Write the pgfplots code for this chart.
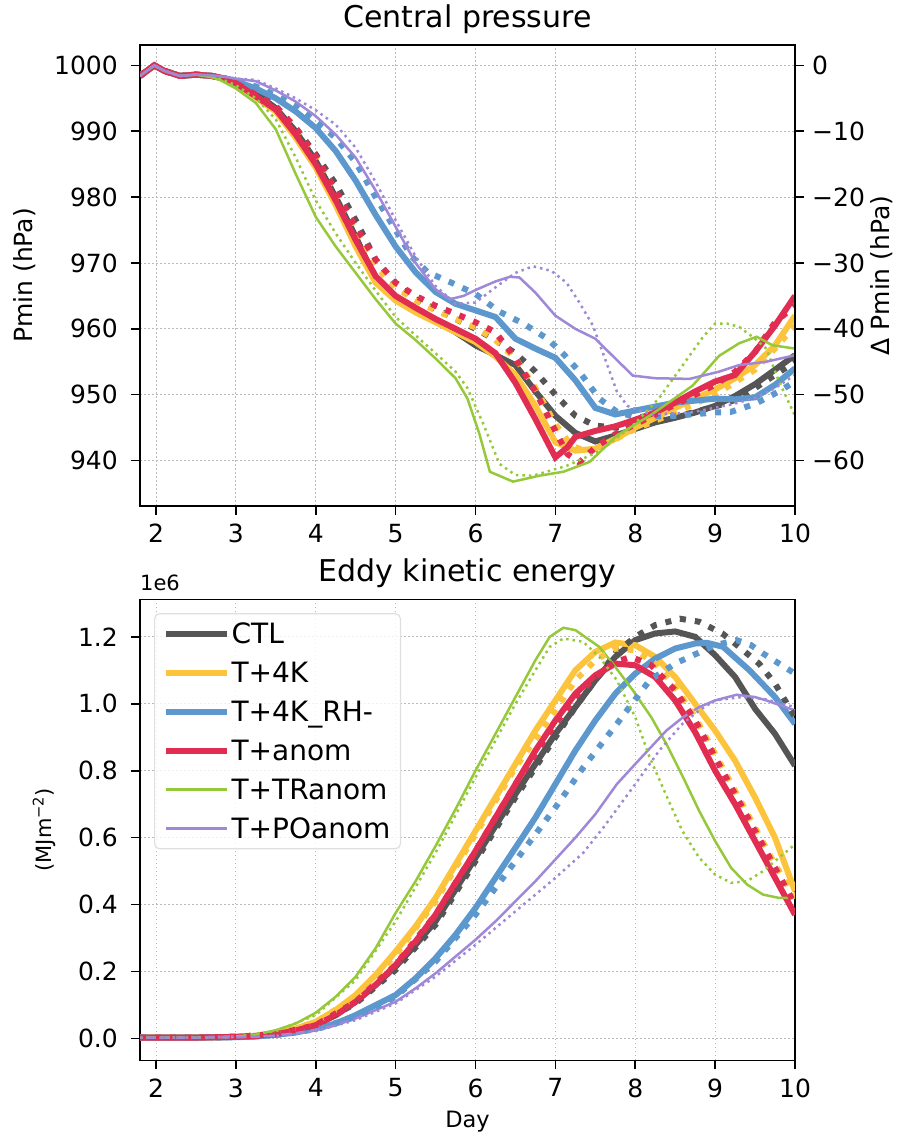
\documentclass[border=0pt]{standalone}
\usepackage{fontspec}
\setmainfont{DejaVu Sans}
\usepackage{pgfplots}
\pgfplotsset{compat=1.18}
\definecolor{cctl}{RGB}{85,85,85}
\definecolor{cfk}{RGB}{252,196,60}
\definecolor{crh}{RGB}{92,152,205}
\definecolor{canom}{RGB}{226,45,82}
\definecolor{ctr}{RGB}{150,200,60}
\definecolor{cpo}{RGB}{158,136,215}
\newcommand{\tickfont}{\fontsize{25bp}{30bp}\selectfont}
\pgfplotsset{
  myax/.style={scale only axis, width=655bp, height=461bp,
    xmin=1.8, xmax=10, xtick={2,3,4,5,6,7,8,9,10},
    axis line style={line width=1.6bp, black},
    every tick/.style={line width=1.6bp, black},
    major tick length=9bp, tick align=outside,
    ticklabel style={font=\tickfont},
    /pgf/number format/assume math mode=true,
    /pgf/number format/1000 sep={},
    xticklabel style={inner sep=0pt, yshift=-9bp},
    title style={font=\fontsize{30bp}{36bp}\selectfont, at={(0.5,1)}, anchor=base, yshift=12bp},
  },
  gridst/.style={grid=major, major grid style={gray!55, line width=0.9bp, dash pattern=on 1.5bp off 2.5bp}},
  thk/.style={line width=6bp},
  thn/.style={line width=2.5bp},
  dthk/.style={line width=6bp, dash pattern=on 6bp off 9bp},
  dthn/.style={line width=2.5bp, dash pattern=on 2.5bp off 4bp},
}
\begin{document}
\begin{tikzpicture}
\path[use as bounding box] (0,0) rectangle (899bp,-1135bp);
% ---------------- top panel ----------------
\begin{axis}[myax, gridst, at={(140bp,-45bp)}, anchor=north west,
  ymin=933.1, ymax=1003.1, ytick={940,950,960,970,980,990,1000},
  xtick pos=bottom, ytick pos=left,
  yticklabel style={inner sep=0pt, xshift=-13bp},
  title={Central pressure},
  ylabel={Pmin (hPa)}, ylabel style={font=\tickfont, at={(axis description cs:-0.1756,0.5)}, anchor=center}]
% CTL
\addplot[cctl, thk] coordinates {(1.8,998.4)(1.9,999.3)(1.98,1000.0)(2.1,999.2)(2.3,998.4)(2.5,998.6)(2.7,998.4)(2.9,997.9)
 (3.0,997.3)(3.25,995.8)(3.5,993.5)(3.75,990)(4.0,985.5)(4.25,980)(4.5,974)(4.75,967.5)(5.0,964.5)(5.25,962.8)(5.5,961.2)(5.75,959.5)(6.0,957.5)(6.25,956)(6.5,954.5)(6.75,950.5)(7.0,946.8)(7.25,944.2)(7.5,942.9)(7.75,943.8)(8.0,944.8)(8.25,945.8)(8.5,946.5)(8.75,947.3)(9.0,948.3)(9.25,949.8)(9.5,951.6)(9.75,953.8)(10,956)};
\addplot[cctl, dthk] coordinates {(1.8,998.4)(1.9,999.3)(1.98,1000.0)(2.1,999.2)(2.3,998.4)(2.5,998.6)(2.7,998.4)(2.9,997.9)
 (3.0,997.3)(3.25,996)(3.5,993.8)(3.75,990.5)(4.0,986.5)(4.25,982)(4.5,976.5)(4.75,970.5)(5.0,966.8)(5.25,964.5)(5.5,963)(5.75,961.5)(6.0,960)(6.25,958.3)(6.5,956.3)(6.75,953.5)(7.0,950)(7.25,946.8)(7.5,945.3)(7.75,945)(8.0,945.2)(8.5,946.6)(9.0,948.2)(9.25,949.2)(9.5,951)(9.75,953)(10,955)};
% T+4K
\addplot[cfk, thk] coordinates {(1.8,998.4)(1.9,999.3)(1.98,1000.0)(2.1,999.2)(2.3,998.4)(2.5,998.6)(2.7,998.4)(2.9,997.9)
 (3.0,997.3)(3.5,993)(3.75,989)(4.0,984.5)(4.25,978.8)(4.5,972.5)(4.75,967)(5.0,964.3)(5.25,962.5)(5.5,961)(5.75,959.5)(6.0,958)(6.25,955.8)(6.5,953)(6.75,948.3)(7.0,942.8)(7.25,941.5)(7.5,941.8)(7.75,943.3)(8.0,945)(8.5,948)(9.0,950.8)(9.25,952.5)(9.5,954.5)(9.75,957.5)(10,962)};
\addplot[cfk, dthk] coordinates {(1.8,998.4)(1.9,999.3)(1.98,1000.0)(2.1,999.2)(2.3,998.4)(2.5,998.6)(2.7,998.4)(2.9,997.9)
 (3.0,997.3)(3.5,993.6)(3.75,990)(4.0,985.8)(4.25,980.5)(4.5,974.8)(4.75,969.5)(5.0,966.3)(5.25,964.3)(5.5,962.8)(5.75,961.5)(6.0,960.2)(6.25,958.3)(6.5,955.5)(6.75,951)(7.0,945.5)(7.2,942.3)(7.4,941.3)(7.6,942.3)(8.0,944.8)(8.5,947.3)(9.0,950)(9.5,953.8)(9.75,957)(10,960.5)};
% T+4K_RH-
\addplot[crh, thk] coordinates {(1.8,998.4)(1.9,999.3)(1.98,1000.0)(2.1,999.2)(2.3,998.4)(2.5,998.6)(2.7,998.4)(2.9,997.9)
 (3.0,997.6)(3.25,996.5)(3.5,995)(3.75,993)(4.0,990.5)(4.25,987)(4.5,982.5)(4.75,977.3)(5.0,972.5)(5.25,968.6)(5.5,965.6)(5.75,963.8)(6.0,962.8)(6.25,961.8)(6.5,958.5)(6.75,957)(7.0,955.6)(7.25,952.2)(7.5,948)(7.75,947)(8.0,947.6)(8.25,948.2)(8.5,948.8)(8.75,949.1)(9.0,949.4)(9.25,949.3)(9.5,949.6)(9.75,951.5)(10,954)};
\addplot[crh, dthk] coordinates {(1.8,998.4)(1.9,999.3)(1.98,1000.0)(2.1,999.2)(2.3,998.4)(2.5,998.6)(2.7,998.4)(2.9,997.9)
 (3.0,997.6)(3.25,996.8)(3.5,995.5)(3.75,993.8)(4.0,991.5)(4.25,989)(4.5,985.3)(4.75,980)(5.0,975)(5.2,971)(5.4,968.6)(5.7,967)(6.0,965.3)(6.3,962.6)(6.6,960.8)(6.9,958.5)(7.1,956.2)(7.3,953.5)(7.55,949.4)(7.77,947.4)(8.0,946.6)(8.5,946.8)(9.0,947.3)(9.2,947.4)(9.5,948.6)(9.8,950.5)(10,952)};
% T+anom
\addplot[canom, thk] coordinates {(1.8,998.4)(1.9,999.3)(1.98,1000.0)(2.1,999.2)(2.3,998.4)(2.5,998.6)(2.7,998.4)(2.9,997.9)
 (3.0,997.3)(3.5,993.3)(3.75,989.5)(4.0,985)(4.25,979.5)(4.5,973.5)(4.75,968)(5.0,965)(5.25,963.2)(5.5,961.5)(5.75,960)(6.0,958.5)(6.25,956.3)(6.5,951.8)(6.75,946.3)(7.0,940.5)(7.15,942)(7.25,943.6)(7.5,944.5)(7.75,945.2)(8.0,946.2)(8.25,947.3)(8.5,948.8)(8.75,950.5)(9.0,952)(9.25,953)(9.5,956.5)(9.75,960.5)(10,965)};
\addplot[canom, dthk] coordinates {(1.8,998.4)(1.9,999.3)(1.98,1000.0)(2.1,999.2)(2.3,998.4)(2.5,998.6)(2.7,998.4)(2.9,997.9)
 (3.0,997.3)(3.5,993.8)(3.75,990.5)(4.0,986.2)(4.25,981)(4.5,975.5)(4.75,970.5)(5.0,967)(5.25,965)(5.5,963.5)(5.75,962.3)(6.0,961)(6.25,959.5)(6.5,955.5)(6.75,950.5)(7.0,944.5)(7.15,941)(7.3,939.7)(7.5,942)(7.75,944)(8.0,945.5)(8.5,948.5)(9.0,951.5)(9.25,953.5)(9.5,956.5)(9.75,961)(10,963.5)};
% T+TRanom
\addplot[ctr, thn] coordinates {(1.8,998.4)(1.9,999.3)(1.98,1000.0)(2.1,999.2)(2.3,998.4)(2.5,998.6)(2.7,998.2)(2.8,997.8)
 (3.0,996.5)(3.25,994.3)(3.5,990.3)(3.75,983.5)(4.0,977)(4.25,972.5)(4.5,968.5)(4.75,964.5)(5.0,960.8)(5.25,958.3)(5.5,955.5)(5.75,952.5)(5.9,949.4)(6.05,944)(6.18,938.3)(6.47,936.8)(6.8,937.7)(7.1,938.3)(7.43,939.8)(7.77,943.8)(8.18,946.8)(8.5,949.5)(8.72,951.4)(9.05,955.9)(9.3,957.8)(9.52,958.8)(9.72,957.5)(10,957)};
\addplot[ctr, dthn] coordinates {(1.8,998.4)(1.9,999.3)(1.98,1000.0)(2.1,999.2)(2.3,998.4)(2.5,998.6)(2.7,998.3)(2.8,998)
 (3.0,997)(3.25,995)(3.5,991.8)(3.75,986)(4.0,979.5)(4.25,974.5)(4.5,970)(4.75,965.8)(5.0,961.8)(5.25,959)(5.5,956.3)(5.75,953.5)(5.9,951)(6.1,945.5)(6.3,939.5)(6.5,937.8)(6.72,937.7)(7.14,939.2)(7.55,941.4)(7.97,945.3)(8.3,949.5)(8.59,954.4)(8.85,958.8)(9.0,960.8)(9.15,960.8)(9.3,960.3)(9.5,958.5)(9.64,957)(9.8,952)(10,946.8)};
% T+POanom
\addplot[cpo, thn] coordinates {(1.8,998.4)(1.9,999.3)(1.98,1000.0)(2.1,999.2)(2.3,998.4)(2.5,998.6)(2.7,998.5)(2.9,998.2)
 (3.0,998)(3.25,997.6)(3.5,996.2)(3.75,994.5)(4.0,992.3)(4.25,989.5)(4.5,986)(4.75,981)(5.0,975.5)(5.25,970)(5.5,966)(5.68,964.5)(5.85,965)(6.02,966)(6.25,967.2)(6.43,967.9)(6.55,967.8)(6.75,965.5)(7.0,962)(7.25,960)(7.5,958.5)(7.75,955.5)(7.97,952.9)(8.25,952.5)(8.68,952.4)(9.05,953.5)(9.3,954.5)(9.64,955)(10,956)};
\addplot[cpo, dthn] coordinates {(1.8,998.4)(1.9,999.3)(1.98,1000.0)(2.1,999.2)(2.3,998.4)(2.5,998.6)(2.7,998.5)(2.9,998.2)
 (3.0,998)(3.25,997.8)(3.5,996.5)(3.75,995)(4.0,993.2)(4.25,991)(4.5,987.5)(4.75,982.3)(5.0,976.5)(5.25,971)(5.5,966.5)(5.75,963.8)(6.0,964)(6.25,966.3)(6.5,968.5)(6.72,969.5)(6.95,968.8)(7.14,967)(7.3,964)(7.47,960.5)(7.62,955.5)(7.77,950.5)(7.9,948.3)(8.2,947)(8.7,947.3)(9.2,948.5)(9.5,949.5)(9.75,951)(10,953)};
\end{axis}
% right axis of top panel
\begin{axis}[myax, at={(140bp,-45bp)}, anchor=north west,
  ymin=-66.9, ymax=3.1, ytick={-60,-50,-40,-30,-20,-10,0},
  yticklabels={−60,−50,−40,−30,−20,−10,0},
  hide x axis, axis y line*=right, ytick pos=right,
  yticklabel style={inner sep=0pt, xshift=8bp, anchor=west},
  ylabel={Δ Pmin (hPa)}, ylabel style={font=\tickfont, at={(axis description cs:1.1328,0.5)}, anchor=center, rotate=0}]
\addplot[draw=none] coordinates {(5,-30)};
\end{axis}
% ---------------- bottom panel ----------------
\begin{axis}[myax, gridst, at={(140bp,-599.3bp)}, anchor=north west,
  ymin=-0.065, ymax=1.312, ytick={0,0.2,0.4,0.6,0.8,1.0,1.2},
  yticklabel style={inner sep=0pt, xshift=-13bp, /pgf/number format/.cd, fixed, fixed zerofill, precision=1},
  xtick pos=bottom, ytick pos=left,
  title={Eddy kinetic energy},
  xlabel={Day}, xlabel style={font=\fontsize{22.5bp}{27bp}\selectfont, at={(axis description cs:0.5,-0.145)}, anchor=base},
  ylabel={(MJm\textsuperscript{−2})}, ylabel style={font=\fontsize{21bp}{25bp}\selectfont, at={(axis description cs:-0.1466,0.5)}, anchor=center},
  legend image code/.code={\draw[#1, solid] (0bp,0bp) -- (61bp,0bp);},
  legend cell align=left,
  legend style={at={(0.0214,0.97)}, anchor=north west, draw=gray!25, line width=1.2bp, rounded corners=5bp,
    fill=white, fill opacity=0.8, text opacity=1, font=\fontsize{28bp}{33bp}\selectfont,
    inner xsep=8bp, inner ysep=7bp, row sep=13bp},
  after end axis/.code={\node[anchor=base west, inner sep=0pt, font=\fontsize{21bp}{25bp}\selectfont] at ([yshift=9bp]rel axis cs:0,1) {1e6};}]
% solid series (legend)
\addplot[cctl, thk] coordinates {(1.8,0.003)(2.5,0.003)(3.0,0.005)(3.25,0.008)(3.5,0.014)(3.75,0.025)(4.0,0.042)(4.25,0.07)(4.5,0.11)(4.75,0.16)(5.0,0.215)(5.25,0.28)(5.5,0.35)(5.75,0.445)(6.0,0.54)(6.25,0.635)(6.5,0.73)(6.75,0.82)(7.0,0.91)(7.25,0.99)(7.5,1.07)(7.75,1.14)(8.0,1.19)(8.25,1.21)(8.5,1.216)(8.75,1.2)(9.0,1.145)(9.25,1.08)(9.5,0.985)(9.75,0.91)(10,0.815)};
\addlegendentry{CTL}
\addplot[cfk, thk] coordinates {(1.8,0.003)(2.5,0.003)(3.0,0.005)(3.25,0.008)(3.5,0.016)(3.75,0.03)(4.0,0.05)(4.25,0.085)(4.5,0.13)(4.75,0.19)(5.0,0.26)(5.25,0.335)(5.5,0.42)(5.75,0.52)(6.0,0.62)(6.25,0.72)(6.5,0.82)(6.75,0.92)(7.0,1.01)(7.25,1.10)(7.5,1.155)(7.75,1.183)(8.0,1.175)(8.25,1.14)(8.5,1.08)(8.75,1.0)(9.0,0.92)(9.25,0.83)(9.5,0.72)(9.75,0.6)(10,0.44)};
\addlegendentry{T+4K}
\addplot[crh, thk] coordinates {(1.8,0.003)(2.5,0.003)(3.0,0.004)(3.25,0.006)(3.5,0.011)(3.75,0.018)(4.0,0.03)(4.25,0.045)(4.5,0.07)(4.75,0.10)(5.0,0.13)(5.25,0.18)(5.5,0.24)(5.75,0.31)(6.0,0.39)(6.25,0.48)(6.5,0.57)(6.75,0.66)(7.0,0.76)(7.25,0.86)(7.5,0.95)(7.75,1.03)(8.0,1.09)(8.25,1.135)(8.5,1.165)(8.75,1.18)(8.9,1.182)(9.1,1.17)(9.43,1.10)(9.75,1.02)(10,0.94)};
\addlegendentry{T+4K\_RH-}
\addplot[canom, thk] coordinates {(1.8,0.003)(2.5,0.003)(3.0,0.005)(3.25,0.007)(3.5,0.013)(3.75,0.024)(4.0,0.04)(4.25,0.07)(4.5,0.11)(4.75,0.16)(5.0,0.22)(5.25,0.29)(5.5,0.37)(5.75,0.465)(6.0,0.56)(6.25,0.66)(6.5,0.76)(6.75,0.86)(7.0,0.95)(7.25,1.03)(7.5,1.085)(7.75,1.12)(8.0,1.115)(8.25,1.08)(8.5,1.01)(8.75,0.915)(9.0,0.8)(9.25,0.7)(9.5,0.59)(9.75,0.48)(10,0.37)};
\addlegendentry{T+anom}
\addplot[ctr, thn] coordinates {(1.8,0.003)(2.5,0.003)(3.0,0.006)(3.25,0.012)(3.5,0.025)(3.75,0.045)(4.0,0.077)(4.25,0.125)(4.5,0.185)(4.75,0.27)(5.0,0.375)(5.25,0.47)(5.5,0.575)(5.75,0.685)(6.0,0.80)(6.25,0.91)(6.5,1.02)(6.75,1.13)(6.93,1.2)(7.1,1.227)(7.25,1.22)(7.55,1.17)(7.75,1.11)(7.97,1.04)(8.2,0.96)(8.39,0.88)(8.6,0.78)(8.8,0.68)(9.0,0.59)(9.2,0.51)(9.4,0.46)(9.6,0.43)(9.8,0.42)(10,0.42)};
\addlegendentry{T+TRanom}
\addplot[cpo, thn] coordinates {(1.8,0.003)(2.5,0.003)(3.0,0.004)(3.25,0.005)(3.5,0.009)(3.75,0.016)(4.0,0.026)(4.25,0.04)(4.5,0.06)(4.75,0.085)(5.0,0.11)(5.25,0.15)(5.5,0.195)(5.75,0.245)(6.0,0.295)(6.25,0.35)(6.5,0.41)(6.75,0.47)(7.0,0.535)(7.25,0.60)(7.5,0.67)(7.77,0.76)(8.0,0.82)(8.39,0.92)(8.6,0.96)(8.8,0.99)(9.0,1.01)(9.27,1.027)(9.5,1.02)(9.64,1.01)(10,0.98)};
\addlegendentry{T+POanom}
% dotted series
\addplot[cctl, dthk, forget plot] coordinates {(1.8,0.003)(2.5,0.003)(3.0,0.005)(3.5,0.013)(4.0,0.04)(4.5,0.105)(5.0,0.205)(5.5,0.34)(6.0,0.53)(6.5,0.72)(7.0,0.90)(7.25,0.99)(7.5,1.07)(7.75,1.15)(8.0,1.2)(8.25,1.235)(8.56,1.254)(8.8,1.245)(9.09,1.21)(9.3,1.17)(9.55,1.12)(9.75,1.06)(10,0.96)};
\addplot[cfk, dthk, forget plot] coordinates {(1.8,0.003)(2.5,0.003)(3.0,0.005)(3.5,0.015)(4.0,0.048)(4.5,0.125)(5.0,0.25)(5.5,0.41)(6.0,0.61)(6.5,0.81)(7.0,0.98)(7.25,1.07)(7.5,1.13)(7.75,1.165)(8.0,1.16)(8.25,1.12)(8.5,1.05)(8.75,0.96)(9.0,0.85)(9.25,0.74)(9.5,0.63)(9.75,0.52)(10,0.42)};
\addplot[crh, dthk, forget plot] coordinates {(1.8,0.003)(2.5,0.003)(3.0,0.004)(3.5,0.01)(4.0,0.028)(4.5,0.065)(5.0,0.125)(5.5,0.23)(6.0,0.37)(6.25,0.45)(6.5,0.53)(6.75,0.61)(7.0,0.69)(7.35,0.81)(7.77,0.94)(8.18,1.07)(8.5,1.12)(8.68,1.14)(9.0,1.175)(9.27,1.19)(9.45,1.175)(9.6,1.15)(9.8,1.12)(10,1.09)};
\addplot[canom, dthk, forget plot] coordinates {(1.8,0.003)(2.5,0.003)(3.0,0.005)(3.5,0.013)(4.0,0.04)(4.5,0.11)(5.0,0.22)(5.5,0.37)(6.0,0.56)(6.5,0.76)(7.0,0.94)(7.25,1.02)(7.5,1.08)(7.75,1.125)(7.95,1.14)(8.2,1.115)(8.5,1.04)(8.75,0.95)(9.0,0.84)(9.25,0.73)(9.5,0.62)(9.75,0.51)(10,0.40)};
\addplot[ctr, dthn, forget plot] coordinates {(1.8,0.003)(2.5,0.003)(3.0,0.006)(3.5,0.022)(4.0,0.07)(4.5,0.175)(5.0,0.35)(5.5,0.555)(6.0,0.78)(6.5,1.0)(6.75,1.1)(6.93,1.17)(7.1,1.195)(7.35,1.185)(7.55,1.14)(7.77,1.07)(8.0,0.96)(8.18,0.84)(8.4,0.72)(8.59,0.62)(8.8,0.54)(9.0,0.49)(9.2,0.465)(9.4,0.47)(9.6,0.50)(9.8,0.54)(10,0.58)};
\addplot[cpo, dthn, forget plot] coordinates {(1.8,0.003)(2.5,0.003)(3.0,0.004)(3.5,0.008)(4.0,0.022)(4.5,0.055)(5.0,0.105)(5.5,0.185)(6.0,0.28)(6.25,0.33)(6.5,0.38)(6.75,0.43)(7.0,0.48)(7.35,0.555)(7.6,0.63)(7.97,0.75)(8.3,0.86)(8.59,0.94)(8.8,0.98)(9.0,1.01)(9.33,1.02)(9.6,1.015)(9.84,1.0)(10,0.99)};
\end{axis}
\end{tikzpicture}
\end{document}
